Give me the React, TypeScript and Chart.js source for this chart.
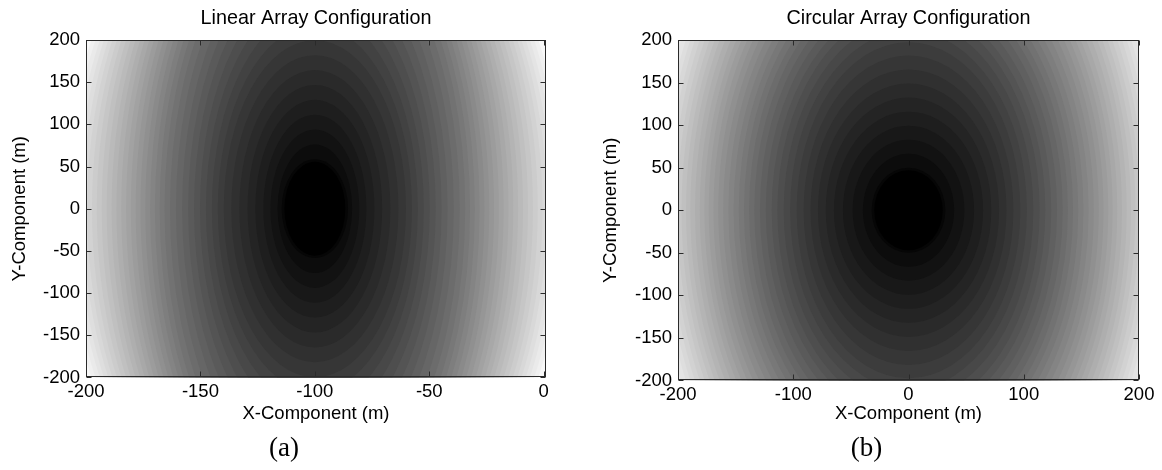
import React, { useEffect, useRef } from "react";
import { Chart, registerables } from "chart.js";

Chart.register(...registerables);

// ---- Data ----
// Filled-contour bands: grey value of each band (0 = black core)
const contourGray = [0, 6, 12, 18, 24, 30, 36, 42, 48, 54, 60, 66, 72, 78, 84, 90, 96, 102, 108, 114, 120, 126, 132, 138, 144, 150, 156, 162, 168, 174, 180, 186, 192, 198, 204, 210, 216, 222, 228, 234, 240];
// Linear array: half-width (m, X) and half-height (m, Y) of each band's outer contour
const linearRx = [13.3, 14.5, 16.3, 19.4, 22.5, 26.0, 29.4, 33.0, 36.5, 39.8, 42.4, 45.0, 47.6, 50.2, 52.8, 55.4, 58.0, 60.7, 63.3, 65.7, 67.8, 69.9, 72.0, 74.1, 76.2, 78.3, 80.4, 82.5, 84.6, 86.7, 88.8, 91.0, 93.1, 95.3, 97.4, 99.5, 101.4, 103.4, 105.3, 107.3, 109.2];
const linearRy = [55.6, 58.5, 76.2, 93.8, 111.5, 129, 146.7, 164.4, 182, 199.7, 217, 235, 253, 271, 289, 306.5, 323, 338.5, 352.5, 364.5, 374.5, 383, 390.5, 397, 402.5, 407.5, 412, 416, 419.5, 422.5, 425.5, 428.5, 431, 433, 435, 437, 439, 441, 443, 445, 447];
// Circular array
const circularRx = [29.7, 32, 39.6, 48.5, 56.9, 64.7, 71.8, 78.6, 85, 91, 97, 102.7, 108.3, 113.8, 118.7, 123.9, 128.9, 133.8, 138.3, 142.8, 147.3, 151.8, 156.3, 160.8, 165.1, 169.2, 173.3, 177.1, 181.1, 185.2, 189.3, 193.1, 196.9, 200.6, 204.4, 208.1, 211.7, 215.1, 218.9, 222.3, 225.9];
const circularRy = [47, 50, 66.3, 82.8, 99.3, 115.8, 132.3, 148.8, 165.3, 181.8, 197.3, 210.6, 223.4, 235.8, 246.3, 257.4, 268.3, 278.6, 288.4, 298.1, 307.9, 317.6, 327.4, 337.1, 346.5, 355.5, 364.5, 372.9, 381.5, 390.4, 398.6, 406.9, 415.1, 423.4, 431.6, 439.9, 447.8, 455.4, 463.6, 471.3, 478.8];
const outerGray = 248;
const linearCenter = { x: -100, y: 0 };
const circularCenter = { x: 0, y: 0 };

const linearXRange = [-200, 1];
const circularXRange = [-200, 200];
const yRange = [-200, 200];
const linearXTicks = [-200, -150, -100, -50, 0];
const circularXTicks = [-200, -100, 0, 100, 200];
const yTicks = [-200, -150, -100, -50, 0, 50, 100, 150, 200];

const titles = ["Linear Array Configuration", "Circular Array Configuration"];
const xTitle = "X-Component (m)";
const yTitle = "Y-Component (m)";
const panelLabels = ["(a)", "(b)"];

const SANS = "'Liberation Sans', Arial, Helvetica, sans-serif";
const gray = (g: number) => `rgb(${g},${g},${g})`;

const contourPlugin = {
  id: "contourFill",
  beforeDatasetsDraw(chart: any) {
    const { ctx, chartArea: a, scales } = chart;
    const x = scales.x;
    const y = scales.y;
    const data = chart.data.datasets[0].data as any[];
    ctx.save();
    ctx.beginPath();
    ctx.rect(a.left, a.top, a.right - a.left, a.bottom - a.top);
    ctx.clip();
    ctx.fillStyle = gray(outerGray);
    ctx.fillRect(a.left, a.top, a.right - a.left, a.bottom - a.top);
    for (let i = data.length - 1; i >= 0; i--) {
      const p = data[i];
      const px = x.getPixelForValue(p.x);
      const py = y.getPixelForValue(p.y);
      const rxp = Math.abs(x.getPixelForValue(p.x + p.rx) - px);
      const ryp = Math.abs(y.getPixelForValue(p.y + p.ry) - py);
      ctx.beginPath();
      ctx.ellipse(px, py, rxp, ryp, 0, 0, Math.PI * 2);
      ctx.fillStyle = gray(p.g);
      ctx.fill();
    }
    ctx.restore();
  },
  afterDraw(chart: any) {
    const { ctx, chartArea: a, scales } = chart;
    const x = scales.x;
    const y = scales.y;
    const L = Math.round(a.left) + 0.5;
    const R = Math.round(a.right) - 0.5;
    const T = Math.round(a.top) + 0.5;
    const B = Math.round(a.bottom) - 0.5;
    const len = 5;
    ctx.save();
    ctx.strokeStyle = "#2a2a2a";
    ctx.lineWidth = 1;
    ctx.strokeRect(L, T, R - L, B - T);
    ctx.beginPath();
    x.ticks.forEach((t: any) => {
      const px = Math.round(x.getPixelForValue(t.value)) + 0.5;
      ctx.moveTo(px, B);
      ctx.lineTo(px, B - len);
      ctx.moveTo(px, T);
      ctx.lineTo(px, T + len);
    });
    y.ticks.forEach((t: any) => {
      const py = Math.round(y.getPixelForValue(t.value)) + 0.5;
      ctx.moveTo(L, py);
      ctx.lineTo(L + len, py);
      ctx.moveTo(R, py);
      ctx.lineTo(R - len, py);
    });
    ctx.stroke();
    ctx.restore();
  },
};

type PanelCfg = {
  title: string;
  center: { x: number; y: number };
  rx: number[];
  ry: number[];
  xRange: number[];
  xTicks: number[];
  yAxisWidth: number;
  xAxisHeight: number;
  padRight: number;
  yTitlePad: number;
};

function makeConfig(cfg: PanelCfg): any {
  const data = contourGray.map((g, i) => ({
    x: cfg.center.x,
    y: cfg.center.y,
    rx: cfg.rx[i],
    ry: cfg.ry[i],
    g,
  }));
  const tickFont = { family: SANS, size: 18.5 };
  return {
    type: "scatter",
    data: {
      datasets: [
        {
          data,
          pointRadius: 0,
          pointHoverRadius: 0,
          showLine: false,
        },
      ],
    },
    plugins: [contourPlugin],
    options: {
      animation: false,
      responsive: false,
      events: [],
      layout: { padding: { left: 0, right: cfg.padRight, top: 0, bottom: 40 } },
      plugins: {
        legend: { display: false },
        tooltip: { enabled: false },
        title: {
          display: true,
          text: cfg.title,
          fullSize: false,
          color: "#000",
          font: { family: SANS, size: 19.8, weight: "normal" },
          padding: { top: 6.5, bottom: 9.7 },
        },
      },
      scales: {
        x: {
          type: "linear",
          min: cfg.xRange[0],
          max: cfg.xRange[1],
          afterBuildTicks: (s: any) => {
            s.ticks = cfg.xTicks.map((v) => ({ value: v }));
          },
          afterFit: (s: any) => {
            s.height = cfg.xAxisHeight;
          },
          grid: { display: false, drawTicks: false },
          border: { display: false },
          ticks: {
            color: "#000",
            font: tickFont,
            padding: 3.5,
            maxRotation: 0,
            autoSkip: false,
            callback: (v: any) => String(v),
          },
          title: {
            display: true,
            text: xTitle,
            color: "#000",
            font: { family: SANS, size: 18.5 },
            padding: { top: 0, bottom: 5.4 },
          },
        },
        y: {
          type: "linear",
          min: yRange[0],
          max: yRange[1],
          afterBuildTicks: (s: any) => {
            s.ticks = yTicks.map((v) => ({ value: v }));
          },
          afterFit: (s: any) => {
            s.width = cfg.yAxisWidth;
          },
          grid: { display: false, drawTicks: false },
          border: { display: false },
          ticks: {
            color: "#000",
            font: tickFont,
            padding: 6,
            autoSkip: false,
            callback: (v: any) => String(v),
          },
          title: {
            display: true,
            text: yTitle,
            color: "#000",
            font: { family: SANS, size: 18.5 },
            padding: { top: cfg.yTitlePad, bottom: 0 },
          },
        },
      },
    },
  };
}

function Panel({ cfg, left }: { cfg: PanelCfg; left: number }) {
  const ref = useRef<HTMLCanvasElement | null>(null);
  useEffect(() => {
    if (!ref.current) return;
    const chart = new Chart(ref.current, makeConfig(cfg));
    return () => chart.destroy();
  }, []);
  return (
    <canvas
      ref={ref}
      width={581}
      height={470}
      style={{ position: "absolute", left, top: 0, width: 581, height: 470 }}
    />
  );
}

export default function App() {
  const leftCfg: PanelCfg = {
    title: titles[0],
    center: linearCenter,
    rx: linearRx,
    ry: linearRy,
    xRange: linearXRange,
    xTicks: linearXTicks,
    yAxisWidth: 86,
    xAxisHeight: 52.5,
    padRight: 35,
    yTitlePad: 8.9,
  };
  const rightCfg: PanelCfg = {
    title: titles[1],
    center: circularCenter,
    rx: circularRx,
    ry: circularRy,
    xRange: circularXRange,
    xTicks: circularXTicks,
    yAxisWidth: 97,
    xAxisHeight: 49.5,
    padRight: 23,
    yTitlePad: 18.9,
  };
  const labelStyle = (cx: number): React.CSSProperties => ({
    position: "absolute",
    left: cx - 50,
    width: 100,
    top: 430,
    height: 34,
    lineHeight: "34px",
    textAlign: "center",
    fontFamily: "'Liberation Serif', 'Times New Roman', serif",
    fontSize: 27,
    color: "#000",
  });
  return (
    <div style={{ position: "fixed", left: 0, top: 0, width: 1162, height: 470, background: "#fff", overflow: "hidden" }}>
      <Panel cfg={leftCfg} left={0} />
      <Panel cfg={rightCfg} left={581} />
      <div style={labelStyle(284)}>{panelLabels[0]}</div>
      <div style={labelStyle(866.5)}>{panelLabels[1]}</div>
    </div>
  );
}
